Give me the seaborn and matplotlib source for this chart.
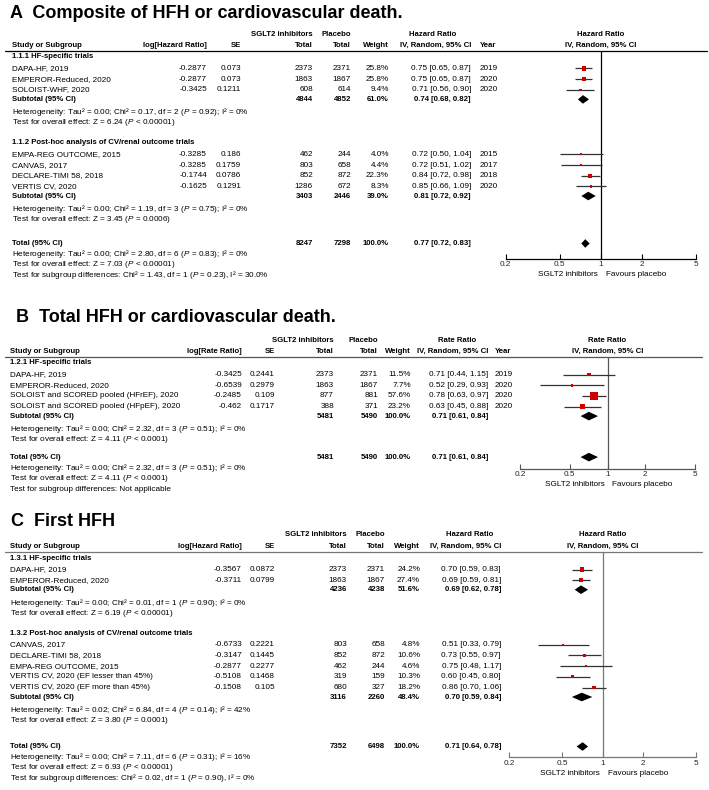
import numpy as np
import matplotlib
matplotlib.use("Agg")
import matplotlib.pyplot as plt
from matplotlib.lines import Line2D
import seaborn as sns

# ---------------- A: composite of HFH or cardiovascular death ----------------
a_groups = ["1.1.1 HF-specific trials", "1.1.2 Post-hoc analysis of CV/renal outcome trials"]
a_group_of = [0, 0, 0, 1, 1, 1, 1]
a_study = ["DAPA-HF, 2019", "EMPEROR-Reduced, 2020", "SOLOIST-WHF, 2020",
           "EMPA-REG OUTCOME, 2015", "CANVAS, 2017", "DECLARE-TIMI 58, 2018", "VERTIS CV, 2020"]
a_log = [-0.2877, -0.2877, -0.3425, -0.3285, -0.3285, -0.1744, -0.1625]
a_se = [0.073, 0.073, 0.1211, 0.186, 0.1759, 0.0786, 0.1291]
a_n1 = [2373, 1863, 608, 462, 803, 852, 1286]
a_n2 = [2371, 1867, 614, 244, 658, 872, 672]
a_weight = [25.8, 25.8, 9.4, 4.0, 4.4, 22.3, 8.3]
a_est = [0.75, 0.75, 0.71, 0.72, 0.72, 0.84, 0.85]
a_lo = [0.65, 0.65, 0.56, 0.50, 0.51, 0.72, 0.66]
a_hi = [0.87, 0.87, 0.90, 1.04, 1.02, 0.98, 1.09]
a_year = [2019, 2020, 2020, 2015, 2017, 2018, 2020]
a_sub_n1 = [4844, 3403]
a_sub_n2 = [4852, 2446]
a_sub_weight = [61.0, 39.0]
a_sub_est = [0.74, 0.81]
a_sub_lo = [0.68, 0.72]
a_sub_hi = [0.82, 0.92]
a_het = ["Heterogeneity: Tau² = 0.00; Chi² = 0.17, df = 2 ($P$ = 0.92); I² = 0%",
         "Heterogeneity: Tau² = 0.00; Chi² = 1.19, df = 3 ($P$ = 0.75); I² = 0%"]
a_z = ["Test for overall effect: Z = 6.24 ($P$ < 0.00001)",
       "Test for overall effect: Z = 3.45 ($P$ = 0.0006)"]
a_total = [8247, 7298, 100.0, 0.77, 0.72, 0.83]
a_total_notes = ["Heterogeneity: Tau² = 0.00; Chi² = 2.80, df = 6 ($P$ = 0.83); I² = 0%",
                 "Test for overall effect: Z = 7.03 ($P$ < 0.00001)",
                 "Test for subgroup differences: Chi² = 1.43, df = 1 ($P$ = 0.23), I² = 30.0%"]

# ---------------- B: total HFH or cardiovascular death ----------------
b_groups = ["1.2.1 HF-specific trials"]
b_group_of = [0, 0, 0, 0]
b_study = ["DAPA-HF, 2019", "EMPEROR-Reduced, 2020",
           "SOLOIST and SCORED pooled (HFrEF), 2020", "SOLOIST and SCORED pooled (HFpEF), 2020"]
b_log = [-0.3425, -0.6539, -0.2485, -0.462]
b_se = [0.2441, 0.2979, 0.109, 0.1717]
b_n1 = [2373, 1863, 877, 388]
b_n2 = [2371, 1867, 881, 371]
b_weight = [11.5, 7.7, 57.6, 23.2]
b_est = [0.71, 0.52, 0.78, 0.63]
b_lo = [0.44, 0.29, 0.63, 0.45]
b_hi = [1.15, 0.93, 0.97, 0.88]
b_year = [2019, 2020, 2020, 2020]
b_sub_n1 = [5481]
b_sub_n2 = [5490]
b_sub_weight = [100.0]
b_sub_est = [0.71]
b_sub_lo = [0.61]
b_sub_hi = [0.84]
b_het = ["Heterogeneity: Tau² = 0.00; Chi² = 2.32, df = 3 ($P$ = 0.51); I² = 0%"]
b_z = ["Test for overall effect: Z = 4.11 ($P$ < 0.0001)"]
b_total = [5481, 5490, 100.0, 0.71, 0.61, 0.84]
b_total_notes = ["Heterogeneity: Tau² = 0.00; Chi² = 2.32, df = 3 ($P$ = 0.51); I² = 0%",
                 "Test for overall effect: Z = 4.11 ($P$ < 0.0001)",
                 "Test for subgroup differences: Not applicable"]

# ---------------- C: first HFH ----------------
c_groups = ["1.3.1 HF-specific trials", "1.3.2 Post-hoc analysis of CV/renal outcome trials"]
c_group_of = [0, 0, 1, 1, 1, 1, 1]
c_study = ["DAPA-HF, 2019", "EMPEROR-Reduced, 2020", "CANVAS, 2017", "DECLARE-TIMI 58, 2018",
           "EMPA-REG OUTCOME, 2015", "VERTIS CV, 2020 (EF lesser than 45%)",
           "VERTIS CV, 2020 (EF more than 45%)"]
c_log = [-0.3567, -0.3711, -0.6733, -0.3147, -0.2877, -0.5108, -0.1508]
c_se = [0.0872, 0.0799, 0.2221, 0.1445, 0.2277, 0.1468, 0.105]
c_n1 = [2373, 1863, 803, 852, 462, 319, 680]
c_n2 = [2371, 1867, 658, 872, 244, 159, 327]
c_weight = [24.2, 27.4, 4.8, 10.6, 4.6, 10.3, 18.2]
c_est = [0.70, 0.69, 0.51, 0.73, 0.75, 0.60, 0.86]
c_lo = [0.59, 0.59, 0.33, 0.55, 0.48, 0.45, 0.70]
c_hi = [0.83, 0.81, 0.79, 0.97, 1.17, 0.80, 1.06]
c_sub_n1 = [4236, 3116]
c_sub_n2 = [4238, 2260]
c_sub_weight = [51.6, 48.4]
c_sub_est = [0.69, 0.70]
c_sub_lo = [0.62, 0.59]
c_sub_hi = [0.78, 0.84]
c_het = ["Heterogeneity: Tau² = 0.00; Chi² = 0.01, df = 1 ($P$ = 0.90); I² = 0%",
         "Heterogeneity: Tau² = 0.02; Chi² = 6.84, df = 4 ($P$ = 0.14); I² = 42%"]
c_z = ["Test for overall effect: Z = 6.19 ($P$ < 0.00001)",
       "Test for overall effect: Z = 3.80 ($P$ = 0.0001)"]
c_total = [7352, 6498, 100.0, 0.71, 0.64, 0.78]
c_total_notes = ["Heterogeneity: Tau² = 0.00; Chi² = 7.11, df = 6 ($P$ = 0.31); I² = 16%",
                 "Test for overall effect: Z = 6.93 ($P$ < 0.00001)",
                 "Test for subgroup differences: Chi² = 0.02, df = 1 ($P$ = 0.90), I² = 0%"]

ticks = [0.2, 0.5, 1, 2, 5]
tick_labels = ["0.2", "0.5", "1", "2", "5"]

sns.set_style("white")
plt.rcParams["font.family"] = ["Liberation Sans", "DejaVu Sans"]
plt.rcParams["mathtext.fontset"] = "custom"
plt.rcParams["mathtext.rm"] = "Liberation Sans"
plt.rcParams["mathtext.it"] = "Liberation Sans:italic"
plt.rcParams["mathtext.bf"] = "Liberation Sans:bold"

W, H = 709, 790
FS = 5.9
FSB = 5.6  # bold header text runs wide, keep it a touch smaller
RED = "#CC0000"
fig = plt.figure(figsize=(W / 100, H / 100), dpi=100)


def put(x, y, s, ha="left", bold=False, size=None, color="black"):
    if size is None:
        size = FSB if bold else FS
    fig.text(x / W, 1 - y / H, s, ha=ha, va="center", fontsize=size,
             fontweight="bold" if bold else "normal", color=color)


def fmt_ci(e, l, h):
    return f"{e:.2f} [{l:.2f}, {h:.2f}]"


def forest(title, title_x, title_y, line_y, col, ratio, d, line_col, k_sq, gaps):
    total_gap, foot_step, axis_gap = gaps
    # header
    put(title_x, title_y, title, bold=True, size=13)
    top = line_y - 17
    hd = line_y - 5.5
    put(col["n1"], top, "SGLT2 inhibitors", ha="right", bold=True)
    put(col["n2"], top, "Placebo", ha="right", bold=True)
    put(col["ci_c"], top, ratio, ha="center", bold=True)
    pc = (col["p0"] + col["p1"]) / 2
    put(pc, top, ratio, ha="center", bold=True)
    put(col["study"], hd, "Study or Subgroup", bold=True)
    put(col["est"], hd, f"log[{ratio}]", ha="right", bold=True)
    put(col["se"], hd, "SE", ha="right", bold=True)
    put(col["n1"], hd, "Total", ha="right", bold=True)
    put(col["n2"], hd, "Total", ha="right", bold=True)
    put(col["w"], hd, "Weight", ha="right", bold=True)
    put(col["ci"], hd, "IV, Random, 95% CI", ha="right", bold=True)
    if "year" in col:
        put(col["year"], hd, "Year", bold=True)
    put(pc, hd, "IV, Random, 95% CI", ha="center", bold=True)
    fig.add_artist(Line2D([5 / W, col["line_end"] / W], [1 - line_y / H] * 2,
                          color=line_col, lw=0.9))

    # rows
    y = line_y
    study_y = [0.0] * len(d["study"])
    sub_y = []
    for g, gname in enumerate(d["groups"]):
        y += 6 if g == 0 else 20
        put(col["study"], y, gname, bold=True)
        y += 11.5
        idx = [i for i, gg in enumerate(d["group_of"]) if gg == g]
        for j, i in enumerate(idx):
            if j:
                y += 10.7
            study_y[i] = y
            put(col["study"], y, d["study"][i])
            put(col["est"], y, str(d["log"][i]), ha="right")
            put(col["se"], y, str(d["se"][i]), ha="right")
            put(col["n1"], y, str(d["n1"][i]), ha="right")
            put(col["n2"], y, str(d["n2"][i]), ha="right")
            put(col["w"], y, f"{d['weight'][i]:.1f}%", ha="right")
            put(col["ci"], y, fmt_ci(d["est"][i], d["lo"][i], d["hi"][i]), ha="right")
            if "year" in col:
                put(col["year"], y, str(d["year"][i]))
        y += 9.5
        sub_y.append(y)
        put(col["study"], y, "Subtotal (95% CI)", bold=True)
        put(col["n1"], y, str(d["sub_n1"][g]), ha="right", bold=True)
        put(col["n2"], y, str(d["sub_n2"][g]), ha="right", bold=True)
        put(col["w"], y, f"{d['sub_weight'][g]:.1f}%", ha="right", bold=True)
        put(col["ci"], y, fmt_ci(d["sub_est"][g], d["sub_lo"][g], d["sub_hi"][g]),
            ha="right", bold=True)
        y += 13
        put(col["study"], y, d["het"][g])
        y += 10.5
        put(col["study"], y, d["z"][g])
    y += total_gap
    tot_y = y
    t = d["total"]
    put(col["study"], y, "Total (95% CI)", bold=True)
    put(col["n1"], y, str(t[0]), ha="right", bold=True)
    put(col["n2"], y, str(t[1]), ha="right", bold=True)
    put(col["w"], y, f"{t[2]:.1f}%", ha="right", bold=True)
    put(col["ci"], y, fmt_ci(t[3], t[4], t[5]), ha="right", bold=True)
    for note in d["total_notes"]:
        y += foot_step
        put(col["study"], y, note)

    # forest axes, y in pixel units
    ax_y = tot_y + axis_gap
    ax = fig.add_axes([col["p0"] / W, 1 - ax_y / H, (col["p1"] - col["p0"]) / W,
                       (ax_y - line_y) / H])
    ax.set_xscale("log")
    ax.axvline(1, color=line_col, lw=0.9, zorder=1)
    ax.hlines(study_y, d["lo"], d["hi"], color="#333333", lw=0.9, zorder=2)
    side = np.maximum(k_sq * np.sqrt(d["weight"]), 2.2) * 0.72
    sns.scatterplot(x=d["est"], y=study_y, marker="s", s=side ** 2, color=RED,
                    linewidth=0, ax=ax, legend=False, zorder=3)
    dh = 4.3
    for yy, e, l, h in zip(sub_y + [tot_y], d["sub_est"] + [t[3]],
                           d["sub_lo"] + [t[4]], d["sub_hi"] + [t[5]]):
        ax.fill([l, e, h, e], [yy, yy - dh, yy, yy + dh], color="black", lw=0, zorder=3)
    ax.set_xlim(0.2, 5)
    ax.set_ylim(ax_y, line_y)
    ax.minorticks_off()
    ax.set_xticks(ticks)
    ax.set_xticklabels(tick_labels)
    ax.set_yticks([])
    ax.set_xlabel("")
    ax.set_ylabel("")
    ax.patch.set_alpha(0)
    for s in ["top", "left", "right"]:
        ax.spines[s].set_visible(False)
    ax.spines["bottom"].set_color(line_col)
    ax.spines["bottom"].set_linewidth(0.9)
    ax.tick_params(axis="x", direction="in", length=3.5, width=0.8, color=line_col,
                   labelsize=FS, pad=2, bottom=True)
    put(pc - 3, ax_y + 16, "SGLT2 inhibitors", ha="right")
    put(pc + 5, ax_y + 16, "Favours placebo")


a_data = dict(groups=a_groups, group_of=a_group_of, study=a_study, log=a_log, se=a_se,
              n1=a_n1, n2=a_n2, weight=a_weight, est=a_est, lo=a_lo, hi=a_hi, year=a_year,
              sub_n1=a_sub_n1, sub_n2=a_sub_n2, sub_weight=a_sub_weight, sub_est=a_sub_est,
              sub_lo=a_sub_lo, sub_hi=a_sub_hi, het=a_het, z=a_z, total=a_total,
              total_notes=a_total_notes)
b_data = dict(groups=b_groups, group_of=b_group_of, study=b_study, log=b_log, se=b_se,
              n1=b_n1, n2=b_n2, weight=b_weight, est=b_est, lo=b_lo, hi=b_hi, year=b_year,
              sub_n1=b_sub_n1, sub_n2=b_sub_n2, sub_weight=b_sub_weight, sub_est=b_sub_est,
              sub_lo=b_sub_lo, sub_hi=b_sub_hi, het=b_het, z=b_z, total=b_total,
              total_notes=b_total_notes)
c_data = dict(groups=c_groups, group_of=c_group_of, study=c_study, log=c_log, se=c_se,
              n1=c_n1, n2=c_n2, weight=c_weight, est=c_est, lo=c_lo, hi=c_hi,
              sub_n1=c_sub_n1, sub_n2=c_sub_n2, sub_weight=c_sub_weight, sub_est=c_sub_est,
              sub_lo=c_sub_lo, sub_hi=c_sub_hi, het=c_het, z=c_z, total=c_total,
              total_notes=c_total_notes)

cols_a = dict(study=12, est=207, se=241, n1=313, n2=351, w=389, ci=471, ci_c=433, year=480,
              p0=505.7, p1=695.7, line_end=707)
cols_b = dict(study=10, est=242, se=275, n1=334, n2=378, w=411, ci=488, ci_c=457, year=495,
              p0=520, p1=695, line_end=702)
cols_c = dict(study=10, est=242, se=275, n1=347, n2=385, w=420, ci=501, ci_c=470,
              p0=509, p1=696, line_end=702)

forest("A  Composite of HFH or cardiovascular death.", 10, 13, 51, cols_a, "Hazard Ratio",
       a_data, "black", 0.85, (24, 10.4, 15))
forest("B  Total HFH or cardiovascular death.", 16, 318, 357, cols_b, "Rate Ratio",
       b_data, "#555555", 1.0, (17.5, 10.8, 11.5))
forest("C  First HFH", 11, 522, 552, cols_c, "Hazard Ratio",
       c_data, "#777777", 0.85, (26, 10.4, 10.5))

fig.savefig("out.png", dpi=100, facecolor="white")
